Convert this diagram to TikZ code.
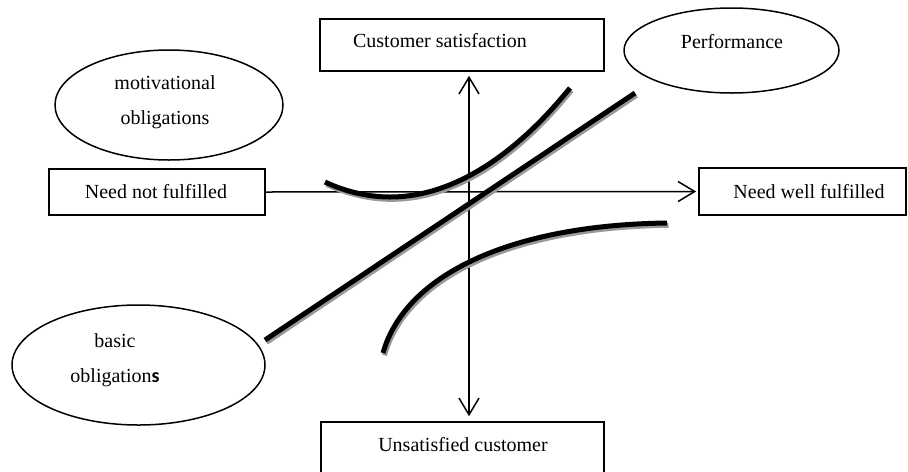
\documentclass[tikz,border=0pt]{standalone}
\usepackage{fontspec}
\setmainfont{Liberation Serif}
\newfontfamily\calibri{Carlito}
\usepackage{tikz}
\usetikzlibrary{arrows.meta, shapes.geometric}

\begin{document}
\begin{tikzpicture}[x=0.6pt, y=-0.6pt,
    font=\fontsize{12}{21}\selectfont,
    >={Straight Barb[length=10pt, width=12pt]},
    boite/.style={draw, line width=1pt, inner sep=0pt},
    bulle/.style={draw, ellipse, line width=0.9pt, inner sep=0pt},
    texte/.style={inner sep=0pt, align=center},
    axe/.style={line width=0.9pt},
    courbe/.style={line width=3pt,
        preaction={draw=black!40, line width=3pt, transform canvas={shift={(0.9pt,-1.4pt)}}}}]
    % Cadre
    \useasboundingbox (0,0) rectangle (908,471);
    \clip (0,0) rectangle (908,471);

    % Boites
    \foreach \nom/\x/\y/\w/\h in {satis/462/45/170.4/31.2, notful/157/192/129.6/27.6,
        wellful/802.5/191.5/124.2/28.2, unsat/462.5/448/169.8/31.2} {
        \node[boite, minimum width=\w pt, minimum height=\h pt] (\nom) at (\x,\y) {};
    }

    % Ellipses
    \foreach \nom/\x/\y/\w/\h in {motiv/169/105/136.8/66, perf/731.5/50.5/129/51,
        basic/138.5/365/151.8/72} {
        \node[bulle, minimum width=\w pt, minimum height=\h pt] (\nom) at (\x,\y) {};
    }

    % Textes
    \node[texte] (t-satis) at (440,41) {Customer satisfaction};
    \node[texte] (t-perf) at (732,42) {Performance};
    \node[texte] (t-motiv) at (165,102.5) {motivational\\obligations};
    \node[texte] (t-notful) at (156,192) {Need not fulfilled};
    \node[texte] (t-wellful) at (809,192) {Need well fulfilled};
    \node[texte] (t-basic) at (115,360.5) {basic\\obligation{\calibri\bfseries s}};
    \node[texte] (t-unsat) at (463,445) {Unsatisfied customer};

    % Axes
    \coordinate (vx) at (469,0);
    \draw[axe, ->, shorten >=1.2pt] (notful.east) -- (wellful.west);
    \draw[axe, <->, shorten <=2.4pt, shorten >=3pt] (satis.south -| vx) -- (unsat.north -| vx);

    % Courbes
    \draw[courbe] (325,182) parabola bend (390,197) (570,88);
    \draw[courbe] (265,340) -- (635,93);
    \draw[courbe] (383,353) .. controls (405,275) and (510,225) .. (667,223);
\end{tikzpicture}
\end{document}
